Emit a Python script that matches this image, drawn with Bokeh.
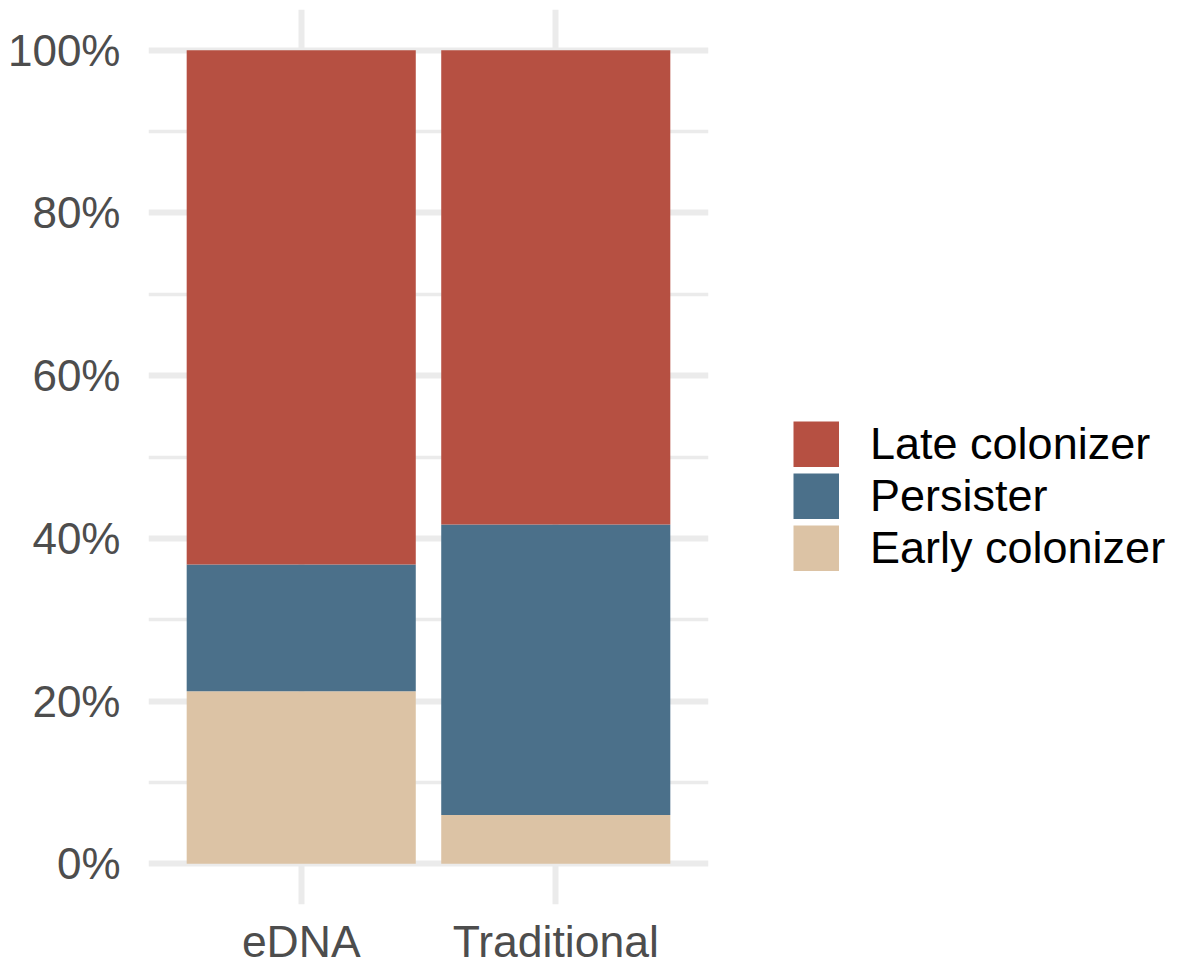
from bokeh.plotting import figure
from bokeh.models import (Range1d, FixedTicker, NumeralTickFormatter, Legend,
                          LegendItem, ColumnDataSource)
from bokeh.embed import file_html
from bokeh.resources import INLINE

# ---- data ----
categories = ["eDNA", "Traditional"]
series = ["Early colonizer", "Persister", "Late colonizer"]
early = [0.212, 0.060]
persister = [0.156, 0.357]
late = [0.632, 0.583]
colors = ["#DCC3A5", "#4B708A", "#B65042"]
y_ticks = [0.0, 0.2, 0.4, 0.6, 0.8, 1.0]
y_minor = [0.1, 0.3, 0.5, 0.7, 0.9]

xpos = list(range(1, len(categories) + 1))
src = ColumnDataSource(dict(x=xpos, early=early, persister=persister, late=late))

FONT = "Liberation Sans"
GRID = "#EBEBEB"

p = figure(frame_width=560, frame_height=895,
           x_range=Range1d(0.4, 2.6), y_range=Range1d(-0.05, 1.05),
           output_backend="svg", toolbar_location=None,
           min_border_left=148, min_border_right=472,
           min_border_top=9, min_border_bottom=0)
p.outline_line_color = None
p.background_fill_color = "white"
p.border_fill_color = "white"

rs = p.vbar_stack(["early", "persister", "late"], x="x", width=0.9,
                  fill_color=colors, line_color=None, source=src)

# legend keys: square swatches of the series colours (NaN data, nothing drawn in the plot)
nan = float("nan")
key_rs = [p.line(x=[nan], y=[nan], line_color=c, line_width=46) for c in colors]

# grids
p.xgrid.ticker = FixedTicker(ticks=xpos)
p.xgrid.grid_line_color = GRID
p.xgrid.grid_line_width = 6
p.ygrid.ticker = FixedTicker(ticks=y_ticks, minor_ticks=y_minor)
p.ygrid.grid_line_color = GRID
p.ygrid.grid_line_width = 6
p.ygrid.minor_grid_line_color = GRID
p.ygrid.minor_grid_line_width = 3.5

# axes
for ax in (p.xaxis[0], p.yaxis[0]):
    ax.axis_line_color = None
    ax.major_tick_line_color = None
    ax.minor_tick_line_color = None
    ax.major_tick_out = 0
    ax.major_tick_in = 0
    ax.major_label_text_font = FONT
    ax.major_label_text_color = "#4D4D4D"

p.xaxis.ticker = FixedTicker(ticks=xpos)
p.xaxis.major_label_overrides = {x: c for x, c in zip(xpos, categories)}
p.xaxis.major_label_standoff = 12
p.xaxis.major_label_text_font_size = "44.5px"
p.yaxis.ticker = FixedTicker(ticks=y_ticks)
p.yaxis.formatter = NumeralTickFormatter(format="0%")
p.yaxis.major_label_standoff = 28
p.yaxis.major_label_text_font_size = "44px"

items = [LegendItem(label=s, renderers=[r]) for s, r in zip(series, key_rs)][::-1]
legend = Legend(items=items, location=(85, 330),
                glyph_width=46, glyph_height=46, spacing=-5,
                label_text_font=FONT, label_text_font_size="45px",
                label_text_color="black", label_standoff=31,
                padding=0, margin=0, border_line_color=None,
                background_fill_alpha=0)
p.add_layout(legend, "right")

open("out.html", "w").write(file_html(p, INLINE))
